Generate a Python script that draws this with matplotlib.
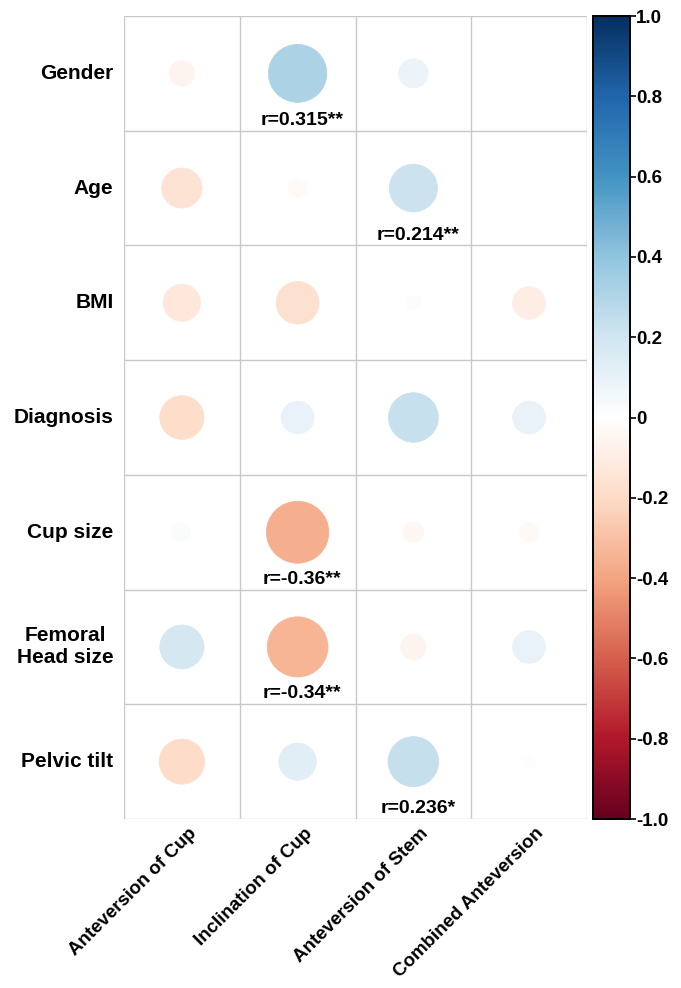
import numpy as np
import matplotlib
matplotlib.use('Agg')
import matplotlib.pyplot as plt
from matplotlib.colors import LinearSegmentedColormap, Normalize
from matplotlib.patches import Circle

plt.rcParams['font.family'] = ['Liberation Sans', 'DejaVu Sans']
plt.rcParams['font.weight'] = 'bold'

# row / column names
row_labels = ['Gender', 'Age', 'BMI', 'Diagnosis', 'Cup size', 'Femoral\nHead size', 'Pelvic tilt']
col_labels = ['Anteversion of Cup', 'Inclination of Cup', 'Anteversion of Stem', 'Combined Anteversion']

# correlation coefficients, one list per column (top to bottom)
ant_cup = [-0.06, -0.15, -0.13, -0.18, 0.03, 0.18, -0.19]
incl_cup = [0.315, -0.03, -0.17, 0.10, -0.36, -0.34, 0.13]
ant_stem = [0.08, 0.214, 0.02, 0.23, -0.04, -0.06, 0.236]
comb_ant = [0.002, 0.003, -0.10, 0.10, -0.035, 0.10, -0.012]

# significance annotations (same layout as the matrix)
sig_text = [
    ['', 'r=0.315**', '', ''],
    ['', '', 'r=0.214**', ''],
    ['', '', '', ''],
    ['', '', '', ''],
    ['', 'r=-0.36**', '', ''],
    ['', 'r=-0.34**', '', ''],
    ['', '', 'r=0.236*', ''],
]

cbar_ticks = [-1.0, -0.8, -0.6, -0.4, -0.2, 0, 0.2, 0.4, 0.6, 0.8, 1.0]
cbar_ticklabels = ['-1.0', '-0.8', '-0.6', '-0.4', '-0.2', '0', '0.2', '0.4', '0.6', '0.8', '1.0']

# corrplot-style red/blue palette
col2 = ['#67001F', '#B2182B', '#D6604D', '#F4A582', '#FDDBC7', '#FFFFFF',
        '#D1E5F0', '#92C5DE', '#4393C3', '#2166AC', '#053061']
cmap = LinearSegmentedColormap.from_list('corr', col2, N=256)
norm = Normalize(-1, 1)

corr = np.array([ant_cup, incl_cup, ant_stem, comb_ant]).T
n_rows, n_cols = corr.shape

fig = plt.figure(figsize=(6.81, 9.88), dpi=100)
ax = fig.add_axes([124 / 681, 1 - 819 / 988, 463 / 681, 803 / 988])
ax.set_xlim(0, n_cols)
ax.set_ylim(n_rows, 0)

grid_color = '#C8C8C8'
for i in range(n_rows + 1):
    ax.axhline(i, color=grid_color, lw=1, zorder=1)
for j in range(n_cols + 1):
    ax.axvline(j, color=grid_color, lw=1, zorder=1)

for i in range(n_rows):
    for j in range(n_cols):
        r = corr[i, j]
        rad = 0.45 * np.sqrt(abs(r))
        c = cmap(norm(r))
        ax.add_patch(Circle((j + 0.5, i + 0.5), rad, facecolor=c, edgecolor=c, lw=0.5, zorder=2))
        if sig_text[i][j]:
            ax.text(j + 0.54, i + 0.91, sig_text[i][j], ha='center', va='center',
                    fontsize=14, fontweight='bold', zorder=3)

for spine in ax.spines.values():
    spine.set_visible(False)
ax.set_xticks([])
ax.set_yticks([])

for i, lab in enumerate(row_labels):
    ax.text(-0.09, i + 0.5, lab, ha='right', va='center', multialignment='center',
            fontsize=15, fontweight='bold')

for j, lab in enumerate(col_labels):
    ax.text(j + 0.55, n_rows + 0.05, lab, ha='right', va='top', rotation=45,
            rotation_mode='anchor', fontsize=13.5, fontweight='bold')

# colorbar
cax = fig.add_axes([593 / 681, 1 - 819 / 988, 37 / 681, 803 / 988])
sm = plt.cm.ScalarMappable(norm=norm, cmap=cmap)
cb = fig.colorbar(sm, cax=cax)
cb.set_ticks(cbar_ticks)
cb.set_ticklabels(cbar_ticklabels)
cb.outline.set_linewidth(1.4)
cax.tick_params(length=4, width=1.2, pad=0.5, labelsize=13.5)
for t in cax.get_yticklabels():
    t.set_fontweight('bold')

fig.savefig('out.png', dpi=100)
